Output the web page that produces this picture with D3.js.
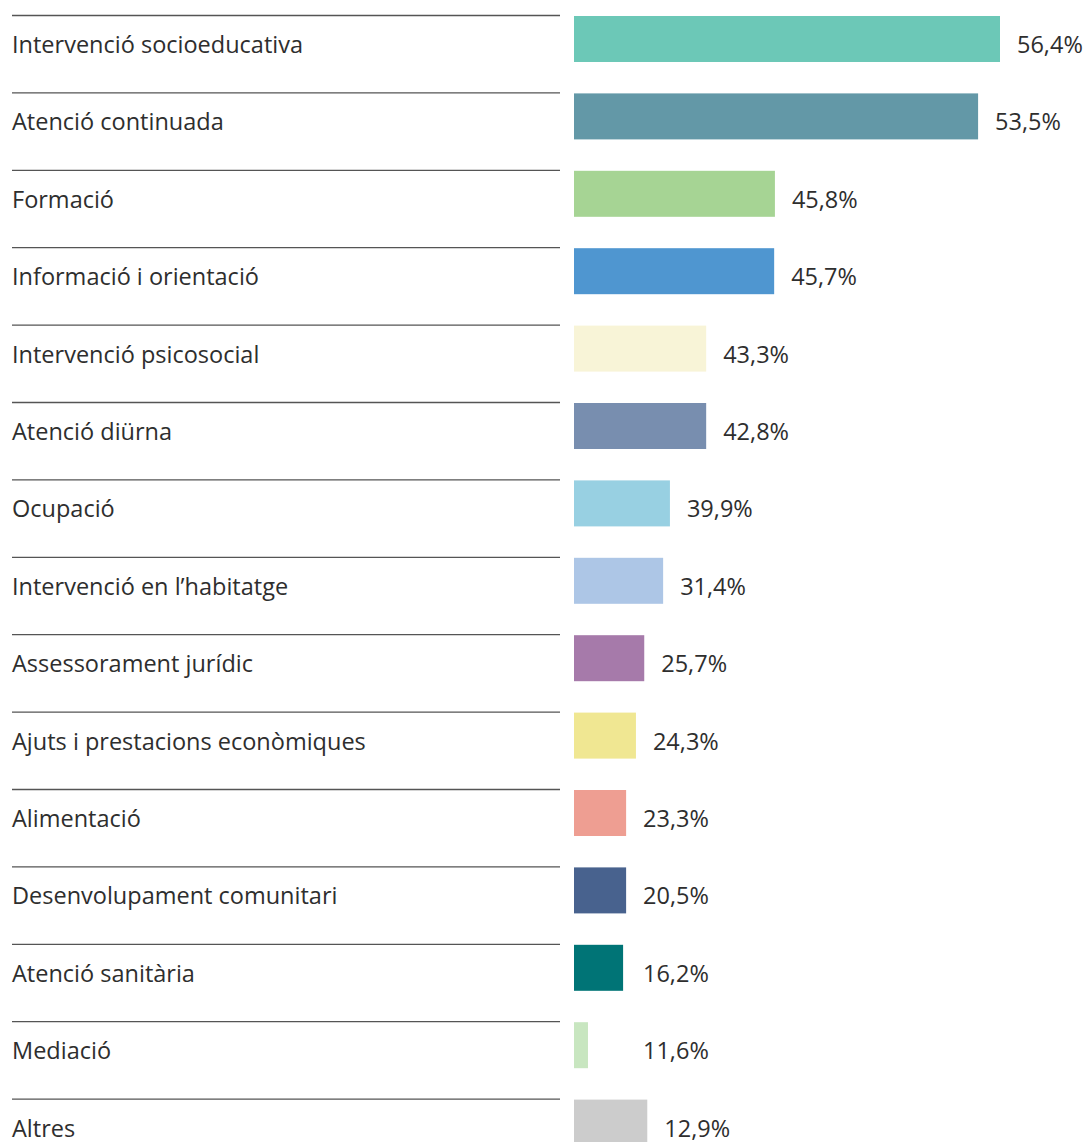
<!DOCTYPE html>
<html>
<head>
<meta charset="utf-8">
<script src="https://cdn.jsdelivr.net/npm/d3@7"></script>
<style>
	body { margin: 0; background: #fff; }
	text { font-family: "Open Sans", sans-serif; fill: #2e2e2e; }
</style>
</head>
<body>
<script>
	// categories, as printed on the left
	var categories = [
		"Intervenció socioeducativa", "Atenció continuada", "Formació",
		"Informació i orientació", "Intervenció psicosocial", "Atenció diürna",
		"Ocupació", "Intervenció en l\u2019habitatge", "Assessorament jurídic",
		"Ajuts i prestacions econòmiques", "Alimentació", "Desenvolupament comunitari",
		"Atenció sanitària", "Mediació", "Altres"
	];
	// the printed percentages
	var values = [56.4, 53.5, 45.8, 45.7, 43.3, 42.8, 39.9, 31.4, 25.7, 24.3, 23.3, 20.5, 16.2, 11.6, 12.9];
	// bar lengths as drawn in the original (not proportional to the labels), same units
	var barLengths = [56.4, 53.5, 26.6, 26.5, 17.5, 17.5, 12.7, 11.8, 9.3, 8.2, 6.9, 6.9, 6.5, 1.85, 9.7];
	var colors = ["#6cc8b7", "#6398a7", "#a6d494", "#4f96d0", "#f8f4d7", "#788eaf", "#98d0e2",
		"#adc6e6", "#a67aaa", "#f0e792", "#ee9e92", "#48628e", "#007476", "#c8e6c0", "#cccccc"];

	var width = 1084, height = 1142;
	var barX = 574;

	var svg = d3.select("body").append("svg")
		.attr("width", width)
		.attr("height", height);

	var y = d3.scaleBand()
		.domain(categories)
		.range([15, 15 + 77.4 * categories.length]);

	var x = d3.scaleLinear()
		.domain([0, 56.4])
		.range([0, 426]);

	var rows = svg.selectAll("g.row")
		.data(categories)
		.enter()
		.append("g")
		.attr("class", "row")
		.attr("transform", function(d){ return "translate(0," + y(d) + ")"; });

	rows.append("line")
		.attr("x1", 12).attr("x2", 560)
		.attr("y1", 0.5).attr("y2", 0.5)
		.attr("stroke", "#555")
		.attr("stroke-width", 1.3);

	rows.append("text")
		.attr("x", 12)
		.attr("y", 38)
		.attr("font-size", 23.5)
		.text(function(d){ return d; });

	rows.append("rect")
		.attr("x", barX)
		.attr("y", 1)
		.attr("height", 46)
		.attr("width", function(d, i){ return x(barLengths[i]); })
		.attr("fill", function(d, i){ return colors[i]; });

	rows.append("text")
		.attr("x", function(d, i){ return Math.max(barX + x(barLengths[i]) + 17, 643); })
		.attr("y", 38)
		.attr("font-size", 23.5)
		.text(function(d, i){ return values[i].toFixed(1).replace(".", ",") + "%"; });
</script>
</body>
</html>
